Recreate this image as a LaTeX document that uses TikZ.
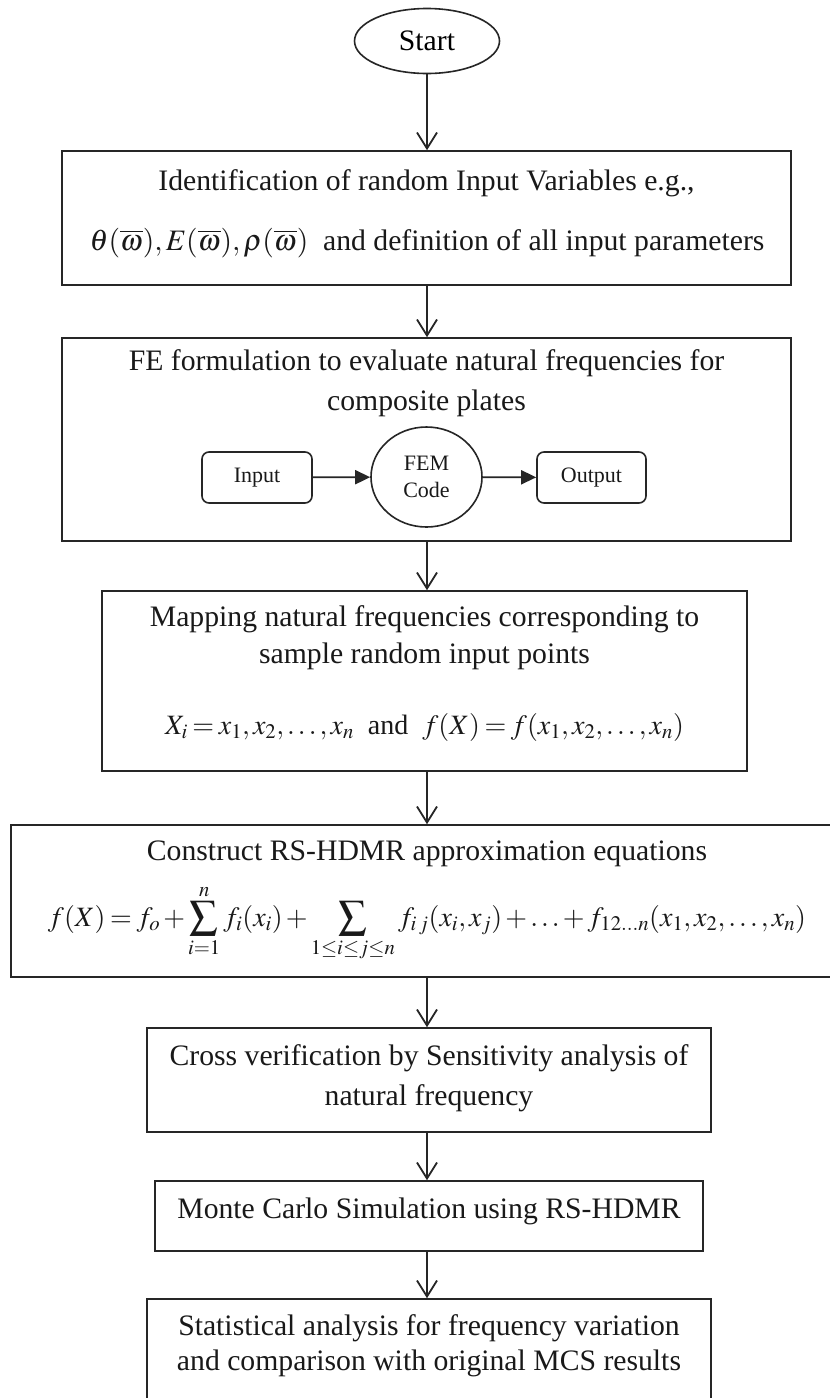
\documentclass[tikz,border=0pt]{standalone}
\usepackage{mathptmx}
\usepackage[no-math]{fontspec}
\setmainfont{Liberation Serif}
\usetikzlibrary{arrows.meta,shapes.geometric}
\newcommand{\eqsp}{\thickmuskip=3mu\relax\medmuskip=2mu\relax}
\begin{document}
\begin{tikzpicture}[x=1pt,y=-1pt,
  font=\fontsize{29.7}{36}\selectfont,
  box/.style={draw=black!85, line width=1.6pt, inner sep=0pt, rectangle},
  txt/.style={anchor=base, inner sep=0pt, text=black!90},
  arr/.style={draw=black!85, line width=1.8pt, -{Straight Barb[length=16pt,width=20pt,line width=1.8pt]}},
  farr/.style={draw=black!85, line width=1.8pt, -{Triangle[length=15pt,width=14pt]}},
  small/.style={font=\fontsize{22}{27}\selectfont, text=black!90},
  rbox/.style={draw=black!85, line width=1.6pt, rounded corners=7pt, inner sep=0pt, rectangle},
  eqn/.style={txt, font=\fontsize{28}{34}\selectfont}
]
\useasboundingbox (0,0) rectangle (830,1398);
\clip (0,0) rectangle (830,1398);
\fill[white] (0,0) rectangle (830,1398);
\coordinate (ax) at (427,0);

% start
\node[draw=black!85, line width=1.6pt, ellipse, minimum width=145pt, minimum height=65pt, inner sep=0pt] (start) at (427,41) {Start};

% boxes
\node[box, minimum width=729pt, minimum height=134pt] (b1) at (426.5,218) {};
\node[box, minimum width=729pt, minimum height=203pt] (b2) at (426.5,439.5) {};
\node[box, minimum width=645pt, minimum height=180pt] (b3) at (424.5,681) {};
\node[box, minimum width=832pt, minimum height=152pt] (b4) at (427,901) {};
\node[box, minimum width=564pt, minimum height=104pt] (b5) at (429,1080) {};
\node[box, minimum width=548pt, minimum height=70pt] (b6) at (429,1216) {};
\node[box, minimum width=564pt, minimum height=111pt] (b7) at (429,1354.5) {};

% texts
\node[txt] (t1a) at (426.5,190) {Identification of random Input Variables e.g.,};
\node[txt] (t1b) at (427,250) {$\theta(\overline{\omega}),E(\overline{\omega}),\rho(\overline{\omega})$\ \ and definition of all input parameters};

\node[txt] (t2a) at (426.5,370) {FE formulation to evaluate natural frequencies for};
\node[txt] (t2b) at (426.5,410) {composite plates};

\node[rbox, small, minimum width=110pt, minimum height=51pt] (in) at (257,477.5) {Input};
\node[draw=black!85, line width=1.6pt, ellipse, minimum width=111pt, minimum height=100pt, inner sep=0pt, small, align=center] (fem) at (426.5,477) {FEM\\Code};
\node[rbox, small, minimum width=109pt, minimum height=51pt] (out) at (591.5,477.5) {Output};
\draw[farr] (in) -- (fem);
\draw[farr] (fem) -- (out);

\node[txt] (t3a) at (424.5,626) {Mapping natural frequencies corresponding to};
\node[txt] (t3b) at (424.5,663) {sample random input points};
\node[eqn] (t3c) at (424.5,734) {$\eqsp X_i = x_1, x_2, \ldots, x_n$\ \ and\ \ $\eqsp f(X) = f(x_1, x_2, \ldots, x_n)$};

\node[txt] (t4a) at (427,860) {Construct RS-HDMR approximation equations};
\node[eqn] (t4b) at (427,926) {$\displaystyle\eqsp f(X) = f_o + \sum_{i=1}^{n} f_i(x_i) + \sum_{1\le i\le j\le n} f_{i\,j}(x_i, x_j) + \ldots + f_{12\ldots n}(x_1, x_2, \ldots, x_n)$};

\node[txt] (t5a) at (429,1065) {Cross verification by Sensitivity analysis of};
\node[txt] (t5b) at (429,1105) {natural frequency};

\node[txt] (t6) at (429,1218) {Monte Carlo Simulation using RS-HDMR};

\node[txt] (t7a) at (429,1335) {Statistical analysis for frequency variation};
\node[txt] (t7b) at (429,1370) {and comparison with original MCS results};

% connectors
\draw[arr] (start.south -| ax) -- (b1.north -| ax);
\draw[arr] (b1.south -| ax) -- (b2.north -| ax);
\draw[arr] (b2.south -| ax) -- (b3.north -| ax);
\draw[arr] (b3.south -| ax) -- (b4.north -| ax);
\draw[arr] (b4.south -| ax) -- (b5.north -| ax);
\draw[arr] (b5.south -| ax) -- (b6.north -| ax);
\draw[arr] (b6.south -| ax) -- (b7.north -| ax);
\end{tikzpicture}
\end{document}
